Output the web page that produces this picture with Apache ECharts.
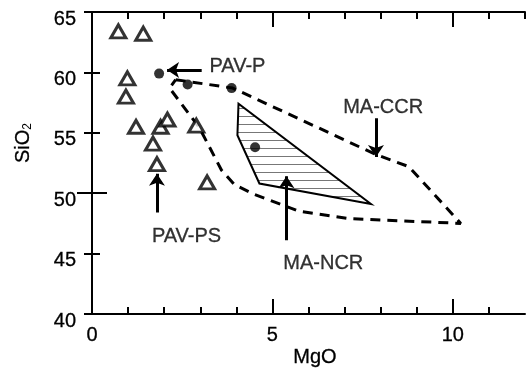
<!DOCTYPE html>
<html>
<head>
<meta charset="utf-8">
<script src="https://cdn.jsdelivr.net/npm/echarts@6/dist/echarts.min.js"></script>
<style>
html, body { margin: 0; padding: 0; background: #fff; }
#chart { width: 528px; height: 371px; }
</style>
</head>
<body>
<div id="chart"></div>
<script>
// open triangles (PAV-PS)
var triMgO = [0.73, 1.42, 0.98, 0.94, 1.22, 1.90, 2.09, 2.89, 1.69, 1.80, 3.19];
var triSiO2 = [63.4, 63.2, 59.5, 58.0, 55.5, 55.5, 56.1, 55.6, 54.1, 52.4, 50.9];

// filled circles
var dotMgO = [1.86, 2.65, 3.87, 4.52];
var dotSiO2 = [59.9, 59.0, 58.7, 53.8];

// dashed envelope (MA-CCR / PAV-PS field)
var ccrMgO = [2.32, 3.90, 7.87, 8.78, 10.22, 7.13, 5.75, 4.50, 3.95, 3.59, 2.98, 2.15, 2.32];
var ccrSiO2 = [59.4, 58.7, 53.2, 52.2, 47.5, 47.9, 48.5, 49.9, 50.7, 51.9, 55.4, 58.7, 59.4];

// hatched field (MA-NCR)
var ncrMgO = [4.06, 4.03, 4.64, 7.73];
var ncrSiO2 = [57.4, 54.8, 50.8, 49.1];

// annotations
var noteText = ['PAV-P', 'MA-CCR', 'PAV-PS', 'MA-NCR'];
var noteMgO = [4.03, 8.07, 2.62, 6.41];
var noteSiO2 = [60.45, 57.1, 46.45, 44.15];

// arrows [from, to]
var arrowFrom = [[3.04, 60.2], [7.87, 56.2], [1.80, 48.4], [5.39, 46.1]];
var arrowTo = [[2.08, 60.2], [7.87, 53.0], [1.80, 51.6], [5.39, 51.4]];

var font = '"Liberation Sans", Arial, sans-serif';
var ink = '#000';

// horizontal hatch pattern
var hatch = document.createElement('canvas');
hatch.width = 8;
hatch.height = 8;
var hc = hatch.getContext('2d');
hc.fillStyle = '#fff';
hc.fillRect(0, 0, 8, 8);
hc.fillStyle = '#777';
hc.fillRect(0, 4, 8, 1);

// main axes: short ticks every unit (x) / every 5 (y)
function axisMain(pos, showLabel, isX) {
    return {
        type: 'value',
        gridIndex: 0,
        position: pos,
        min: isX ? 0 : 40,
        max: isX ? 12 : 65,
        interval: isX ? 1 : 5,
        axisLine: { show: true, lineStyle: { color: ink, width: 2 } },
        axisTick: { show: true, inside: true, length: isX ? 7 : 8, lineStyle: { color: ink, width: 2 } },
        splitLine: { show: false },
        axisLabel: {
            show: showLabel,
            color: ink,
            fontFamily: font,
            fontSize: 20,
            textBorderColor: ink,
            textBorderWidth: 0.3,
            margin: isX ? 11 : 16,
            showMaxLabel: !isX,
            verticalAlign: 'top',
            lineHeight: isX ? 20 : 14,
            formatter: function (v) { return (isX && v % 5 !== 0) ? '' : String(v); }
        }
    };
}

// overlay axes: long ticks only
function axisLong(pos, isX) {
    return {
        type: 'value',
        gridIndex: 1,
        position: pos,
        min: isX ? 0 : 40,
        max: isX ? 12 : 65,
        interval: 5,
        axisLine: { show: false },
        axisTick: { show: true, inside: true, length: 15, lineStyle: { color: ink, width: 2 },
                    customValues: isX ? [5, 10] : [50] },
        splitLine: { show: false },
        axisLabel: { show: false }
    };
}

var chart = echarts.init(document.getElementById('chart'));
var option = {
    backgroundColor: '#fff',
    animation: false,
    grid: [
        { left: 92, right: 3, top: 12, bottom: 57, outerBoundsMode: 'none', containLabel: false },
        { left: 92, right: 3, top: 12, bottom: 57, outerBoundsMode: 'none', containLabel: false }
    ],
    xAxis: [axisMain('bottom', true, true), axisMain('top', false, true), axisLong('bottom', true), axisLong('top', true)],
    yAxis: [axisMain('left', true, false), axisMain('right', false, false), axisLong('left', false), axisLong('right', false)],
    graphic: [
        {
            type: 'text', x: 23, y: 143, rotation: Math.PI / 2,
            style: {
                text: '{a|SiO}{b|2}', align: 'center', verticalAlign: 'middle', fill: ink,
                rich: {
                    a: { fontFamily: font, fontSize: 20, fill: ink, stroke: ink, lineWidth: 0.3 },
                    b: { fontFamily: font, fontSize: 12, fill: ink, padding: [10, 0, 0, 0] }
                }
            }
        },
        {
            type: 'text', x: 315, y: 357,
            style: { text: 'MgO', fontFamily: font, fontSize: 20, fill: ink, stroke: ink, lineWidth: 0.3,
                     align: 'center', verticalAlign: 'middle' }
        }
    ],
    series: [
        {
            type: 'custom',
            renderItem: function (params, api) {
                var pts = ncrMgO.map(function (x, i) { return api.coord([x, ncrSiO2[i]]); });
                return {
                    type: 'polygon',
                    shape: { points: pts },
                    style: { fill: { image: hatch, repeat: 'repeat' }, stroke: ink, lineWidth: 2 }
                };
            },
            data: [[ncrMgO[0], ncrSiO2[0]]],
            z: 1
        },
        {
            type: 'line',
            data: ccrMgO.map(function (x, i) { return [x, ccrSiO2[i]]; }),
            symbol: 'none',
            lineStyle: { color: ink, width: 3, type: [10, 7] },
            z: 2
        },
        {
            type: 'lines',
            coordinateSystem: 'cartesian2d',
            data: arrowFrom.map(function (f, i) { return { coords: [f, arrowTo[i]] }; }),
            symbol: ['none', 'arrow'],
            symbolSize: [9, 12],
            lineStyle: { color: ink, width: 3, opacity: 1 },
            z: 3
        },
        {
            type: 'scatter',
            data: triMgO.map(function (x, i) { return [x, triSiO2[i]]; }),
            symbol: 'triangle',
            symbolSize: [15, 13],
            itemStyle: { color: '#fff', borderColor: ink, borderWidth: 3 },
            z: 4
        },
        {
            type: 'scatter',
            data: dotMgO.map(function (x, i) { return [x, dotSiO2[i]]; }),
            symbol: 'circle',
            symbolSize: 10,
            itemStyle: { color: ink },
            z: 5
        },
        {
            type: 'scatter',
            data: noteMgO.map(function (x, i) { return { value: [x, noteSiO2[i]], name: noteText[i] }; }),
            symbolSize: 1,
            itemStyle: { color: 'transparent' },
            label: {
                show: true,
                position: 'inside',
                formatter: '{b}',
                color: ink,
                fontFamily: font,
                fontSize: 20,
                textBorderColor: ink,
                textBorderWidth: 0.3
            },
            z: 6
        }
    ]
};
chart.setOption(option);
</script>
</body>
</html>
